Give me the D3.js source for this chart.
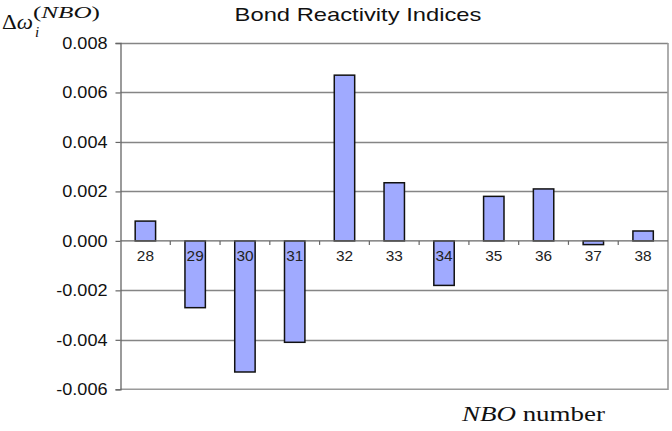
<!DOCTYPE html>
<html><head><meta charset="utf-8">
<script src="https://cdn.jsdelivr.net/npm/d3@7"></script>
<style>
html,body{margin:0;padding:0;background:#fff;}
svg{display:block;}
</style></head>
<body>
<script>
// ---- data ----
const categories = ["28","29","30","31","32","33","34","35","36","37","38"];
const values = [0.0008, -0.0027, -0.0053, -0.0041, 0.0067, 0.00235, -0.0018, 0.0018, 0.0021, -0.00015, 0.0004];
const yTicks = [-0.006, -0.004, -0.002, 0.000, 0.002, 0.004, 0.006, 0.008];
const title = "Bond Reactivity Indices";

const W = 672, H = 431;
const plot = {left: 120.5, right: 668, top: 43, bottom: 389.3};

const svg = d3.select("body").append("svg").attr("width", W).attr("height", H);

const x = d3.scaleBand().domain(categories).range([plot.left, plot.right])
  .paddingInner(0.59).paddingOuter(0.295);
const y = d3.scaleLinear().domain([-0.006, 0.008]).range([plot.bottom, plot.top]);

// stretched text helper
function sText(g, tx, ty, sx, txt, attrs) {
  const t = g.append("text").attr("transform", `translate(${tx},${ty}) scale(${sx},1)`).text(txt);
  for (const k in attrs) t.attr(k, attrs[k]);
  return t;
}

// gridlines
svg.append("g").selectAll("line").data(yTicks.filter(d => d !== 0 && d !== -0.006)).join("line")
  .attr("x1", plot.left).attr("x2", plot.right)
  .attr("y1", d => Math.round(y(d)) + 0.5).attr("y2", d => Math.round(y(d)) + 0.5)
  .attr("stroke", "#858585").attr("stroke-width", 1.3);

// plot border right & bottom
svg.append("path")
  .attr("d", `M${plot.right},${plot.top}V${plot.bottom}H${plot.left}`)
  .attr("fill", "none").attr("stroke", "#9a9a9a").attr("stroke-width", 1.6);

// y axis
const yAxis = d3.axisLeft(y).tickValues(yTicks).tickSize(5).tickFormat(d3.format(".3f"));
const ya = svg.append("g").attr("transform", `translate(${plot.left},0)`).call(yAxis);
ya.select(".domain").attr("stroke", "#666").attr("stroke-width", 1.3);
ya.selectAll(".tick line").attr("stroke", "#666").attr("stroke-width", 1.2);
ya.selectAll(".tick text").remove();
ya.selectAll(".tick").each(function(d) {
  const fmt = d3.format(".3f")(d).replace("−", "-");
  sText(d3.select(this), -13, 5.5, 1.13, fmt, {
    "text-anchor": "end", "font-family": "Liberation Sans, Arial, sans-serif",
    "font-size": 16, "fill": "#111"
  });
});

// bars
svg.append("g").selectAll("rect").data(values).join("rect")
  .attr("x", (d, i) => x(categories[i]))
  .attr("width", x.bandwidth())
  .attr("y", d => y(Math.max(0, d)))
  .attr("height", d => Math.abs(y(d) - y(0)))
  .attr("fill", "#a0aaff").attr("stroke", "#111").attr("stroke-width", 1.5);

// x axis (zero line) with ticks at band boundaries
const y0 = y(0);
const xa = svg.append("g");
xa.append("line").attr("x1", plot.left).attr("x2", plot.right)
  .attr("y1", y0).attr("y2", y0).attr("stroke", "#666").attr("stroke-width", 1.3);
const step = x.step();
xa.selectAll("line.tk").data(categories.slice(1)).join("line").attr("class", "tk")
  .attr("x1", d => x(d) - x.paddingInner() * step / 2)
  .attr("x2", d => x(d) - x.paddingInner() * step / 2)
  .attr("y1", y0).attr("y2", y0 + 4).attr("stroke", "#666").attr("stroke-width", 1.2);
categories.forEach(c => {
  sText(xa, x(c) + x.bandwidth() / 2, y0 + 20, 1.1, c, {
    "text-anchor": "middle", "font-family": "Liberation Sans, Arial, sans-serif",
    "font-size": 14, "fill": "#222"
  });
});

// title
sText(svg, 358, 21, 1.25, title, {
  "text-anchor": "middle", "font-family": "Liberation Sans, Arial, sans-serif",
  "font-size": 19, "fill": "#111"
});

// y-axis label: Δω_i^(NBO)
const lab = svg.append("g");
const t1 = lab.append("text").attr("font-family", "Liberation Serif, Times New Roman, serif")
  .attr("fill", "#111").attr("x", 2).attr("y", 29).attr("font-size", 21)
  .attr("textLength", 31).attr("lengthAdjust", "spacingAndGlyphs");
t1.append("tspan").text("Δ");
t1.append("tspan").attr("font-style", "italic").text("ω");
lab.append("text").attr("font-family", "Liberation Serif, Times New Roman, serif")
  .attr("fill", "#111").attr("x", 35).attr("y", 37).attr("font-size", 15)
  .attr("font-style", "italic").text("i");
const t3 = lab.append("text").attr("font-family", "Liberation Serif, Times New Roman, serif")
  .attr("fill", "#111").attr("x", 33).attr("y", 18).attr("font-size", 16)
  .attr("textLength", 67).attr("lengthAdjust", "spacingAndGlyphs");
t3.append("tspan").text("(");
t3.append("tspan").attr("font-style", "italic").text("NBO");
t3.append("tspan").text(")");

// x-axis title
const xt = svg.append("text").attr("font-family", "Liberation Serif, Times New Roman, serif")
  .attr("fill", "#111").attr("x", 462).attr("y", 421).attr("font-size", 21)
  .attr("textLength", 143).attr("lengthAdjust", "spacingAndGlyphs");
xt.append("tspan").attr("font-style", "italic").text("NBO");
xt.append("tspan").text(" number");
</script>
</body></html>
